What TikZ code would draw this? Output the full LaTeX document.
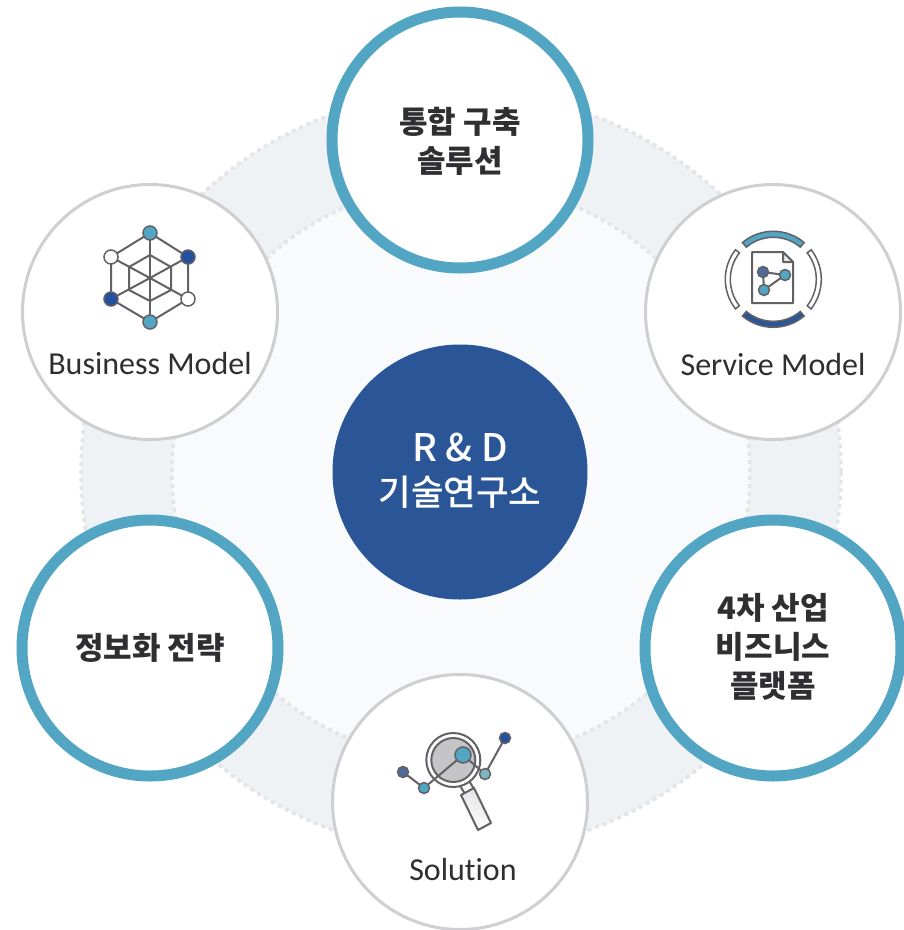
\documentclass[tikz,border=0pt]{standalone}
\usepackage{fontspec}
\setmainfont{Carlito}[Ligatures=NoCommon]
\newfontfamily\cjk{Noto Sans CJK KR}
\newfontfamily\cjkm{Noto Sans CJK KR Medium}
\definecolor{teal1}{HTML}{52A5C3}
\definecolor{navy1}{HTML}{2A5697}
\definecolor{navy2}{HTML}{23509F}
\definecolor{ringc}{HTML}{CFCFD1}
\definecolor{bandc}{HTML}{EFF2F5}
\definecolor{innerc}{HTML}{F9FAFC}
\definecolor{dotc}{HTML}{E3E5E7}
\definecolor{icon}{HTML}{626266}
\definecolor{txt}{HTML}{2F2F31}
\definecolor{slate}{HTML}{4E6A98}
\definecolor{pale}{HTML}{7DB6BE}
\tikzset{
  thin circle/.style={circle,draw=ringc,line width=3pt,fill=white,minimum size=255pt,inner sep=0pt,outer sep=0pt},
  thick circle/.style={circle,draw=teal1,line width=11pt,fill=white,minimum size=256pt,inner sep=0pt,outer sep=0pt},
  bigtext/.style={font=\cjk\bfseries\fontsize{31}{39}\selectfont,text=txt,align=center},
  entext/.style={font=\fontsize{32}{34}\selectfont,text=txt,align=center},
  iconline/.style={draw=icon,line width=2pt},
  hub/.style={circle,draw=icon,line width=1.5pt,minimum size=14pt,inner sep=0pt},
  dotring/.style={draw=dotc,line width=3.5pt,dash pattern=on 4pt off 4pt}
}
\begin{document}
\begin{tikzpicture}[x=1pt,y=-1pt]
\useasboundingbox (0,0) rectangle (904,930);
\coordinate (ringc) at (461,472);
% band
\fill[bandc] (ringc) circle (380pt);
\draw[dotring] (ringc) circle (380pt);
\fill[innerc] (ringc) circle (289pt);
\draw[dotring] (ringc) circle (289pt);
% main circles
\node[thick circle] (top) at (460,140) {};
\node[thin circle] (bm) at (150,312) {};
\node[thin circle] (sm) at (773,312) {};
\node[thick circle] (info) at (150,648) {};
\node[thick circle] (plat) at (773,648) {};
\node[thin circle] (sol) at (460,802) {};
\node[circle,fill=navy1,minimum size=255pt,inner sep=0pt] (rd) at (460,472) {};
% texts
\node[bigtext] (t1) at (460,141) {통합 구축\\솔루션};
\node[bigtext] (t2) at (150,648) {정보화 전략};
\node[bigtext] (t3) at (773,647) {4차 산업\\비즈니스\\플랫폼};
\node[entext] (t4) at (150,364) {Business Model};
\node[entext] (t5) at (773,364) {Service Model};
\node[entext] (t6) at (463,869) {Solution};
\node[font=\cjkm\fontsize{38}{43}\selectfont,text=white] (t7) at (460,448) {R \& D};
\node[font=\cjkm\fontsize{35.5}{40}\selectfont,text=white] (t8) at (460,492) {기술연구소};
% Business icon
\begin{scope}
\foreach \a/\b in {150/233,188/257,188/299,150/322,111/299,111/257}{\draw[iconline] (150,278) -- (\a,\b);}
\draw[iconline] (150,233) -- (188,257) -- (188,299) -- (150,322) -- (111,299) -- (111,257) -- cycle;
\draw[iconline] (150,255) -- (171,267) -- (171,290) -- (150,301) -- (129,290) -- (129,267) -- cycle;
\node[hub,fill=teal1] (h1) at (150,233) {};
\node[hub,fill=navy2] (h2) at (188,257) {};
\node[hub,fill=white] (h3) at (188,299) {};
\node[hub,fill=teal1] (h4) at (150,322) {};
\node[hub,fill=navy2] (h5) at (111,299) {};
\node[hub,fill=white] (h6) at (111,257) {};
\end{scope}
% Service icon
\begin{scope}[shift={(773.3,279.3)}]
\draw[draw=icon,line width=1.5pt,fill=navy1] (50:48) arc[start angle=50,end angle=130,radius=48] -- (130:42) arc[start angle=130,end angle=50,radius=42] -- cycle;
\draw[draw=icon,line width=1.5pt,fill=teal1] (-50:48) arc[start angle=-50,end angle=-130,radius=48] -- (-130:42) arc[start angle=-130,end angle=-50,radius=42] -- cycle;
\draw[draw=icon,line width=1.5pt,fill=white] (142:48) arc[start angle=142,end angle=218,radius=48] -- (218:43) arc[start angle=218,end angle=142,radius=43] -- cycle;
\draw[draw=icon,line width=1.5pt,fill=white] (38:48) arc[start angle=38,end angle=-38,radius=48] -- (-38:43) arc[start angle=-38,end angle=38,radius=43] -- cycle;
\end{scope}
\draw[iconline,fill=white,line join=round] (752,252) -- (783,252) -- (793,262) -- (793,303) -- (752,303) -- cycle;
\draw[iconline,fill=ringc!50,line join=round] (783,252) -- (793,262) -- (783,262) -- cycle;
\coordinate (s1) at (763,272);
\coordinate (s2) at (785,275);
\coordinate (s3) at (764,290);
\draw[iconline] (s1) -- (s2) -- (s3) -- cycle;
\node[hub,fill=slate,minimum size=11pt] (sn1) at (s1) {};
\node[hub,fill=teal1,minimum size=11pt] (sn2) at (s2) {};
\node[hub,fill=teal1,minimum size=11pt] (sn3) at (s3) {};
% Solution icon
\draw[iconline,fill=white,line join=round] (459,784) -- (468,779) -- (474,789) -- (465,794) -- cycle;
\shade[left color=ringc!60,right color=white,shading angle=-25] (461,795) -- (474,788) -- (491,823) -- (478,830) -- cycle;
\draw[iconline,line join=round] (461,795) -- (474,788) -- (491,823) -- (478,830) -- cycle;
\draw[iconline,fill=white] (453.3,760) circle (27pt);
\draw[iconline,fill=ringc!95!black] (453.3,760) circle (22pt);
\coordinate (m1) at (403,772);
\coordinate (m2) at (424,788);
\coordinate (m3) at (463,755);
\coordinate (m4) at (485,774);
\coordinate (m5) at (505,738);
\draw[iconline] (m1) -- (m2) -- (m3) -- (m4) -- (m5);
\node[hub,fill=slate,minimum size=11pt] (mn1) at (m1) {};
\node[hub,fill=teal1,minimum size=11pt] (mn2) at (m2) {};
\node[hub,fill=teal1,minimum size=16pt] (mn3) at (m3) {};
\node[hub,fill=pale,minimum size=11pt] (mn4) at (m4) {};
\node[hub,fill=navy2,minimum size=11pt] (mn5) at (m5) {};
\end{tikzpicture}
\end{document}
